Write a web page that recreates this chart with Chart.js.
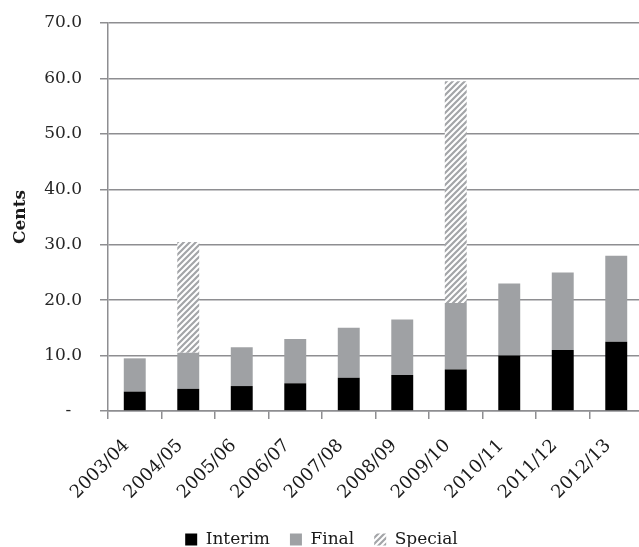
<!DOCTYPE html>
<html>
<head>
<meta charset="utf-8">
<script src="https://cdn.jsdelivr.net/npm/chart.js@4.4.0/dist/chart.umd.min.js"></script>
<style>
  html, body { margin: 0; padding: 0; background: #fff; overflow: hidden; }
  #wrap { width: 639px; height: 547px; overflow: hidden; position: relative; }
  canvas { position: absolute; left: 0; top: 0; }
</style>
</head>
<body>
<div id="wrap"><canvas id="c" width="643" height="547"></canvas></div>
<script>
const categories = ['2003/04','2004/05','2005/06','2006/07','2007/08','2008/09','2009/10','2010/11','2011/12','2012/13'];
const interim = [3.5, 4.0, 4.5, 5.0, 6.0, 6.5, 7.5, 10.0, 11.0, 12.5];
const finalDiv = [6.0, 6.5, 7.0, 8.0, 9.0, 10.0, 12.0, 13.0, 14.0, 15.5];
const special = [0, 20.0, 0, 0, 0, 0, 40.0, 0, 0, 0];
const seriesNames = ['Interim', 'Final', 'Special'];
const yTicks = [0, 10, 20, 30, 40, 50, 60, 70];

function makeStripes() {
  const p = document.createElement('canvas');
  p.width = 6; p.height = 6;
  const g = p.getContext('2d');
  g.fillStyle = '#ffffff';
  g.fillRect(0, 0, 6, 6);
  g.strokeStyle = '#a3a5a8';
  g.lineWidth = 2.2;
  g.beginPath();
  for (let k = -6; k <= 12; k += 6) {
    g.moveTo(k - 1, 7);
    g.lineTo(k + 7, -1);
  }
  g.stroke();
  return g.createPattern(p, 'repeat');
}

const ctx = document.getElementById('c').getContext('2d');
const stripes = makeStripes();
const FONT = "'DejaVu Serif', serif";
const gridCol = '#8e8e91';

new Chart(ctx, {
  type: 'bar',
  data: {
    labels: categories,
    datasets: [
      { label: seriesNames[0], data: interim, backgroundColor: '#000000', categoryPercentage: 1, barPercentage: 0.41 },
      { label: seriesNames[1], data: finalDiv, backgroundColor: '#9fa1a4', categoryPercentage: 1, barPercentage: 0.41 },
      { label: seriesNames[2], data: special, backgroundColor: stripes, categoryPercentage: 1, barPercentage: 0.41 }
    ]
  },
  options: {
    responsive: false,
    animation: false,
    devicePixelRatio: 1,
    layout: { padding: { top: 23, right: 0, left: 0, bottom: -11 } },
    plugins: {
      tooltip: { enabled: false },
      legend: {
        position: 'bottom',
        labels: {
          boxWidth: 12, boxHeight: 12, padding: 20,
          color: '#1a1a1a',
          font: { family: FONT, size: 17 }
        }
      }
    },
    scales: {
      x: {
        stacked: true,
        grid: { display: true, drawOnChartArea: false, drawTicks: true, tickLength: 8, offset: true, color: gridCol, lineWidth: 1.5 },
        border: { display: true, color: gridCol, width: 1.5 },
        ticks: {
          minRotation: 45, maxRotation: 45, padding: 8,
          color: '#1a1a1a',
          font: { family: FONT, size: 18 },
          callback: (v, i) => categories[i] + '  '
        },
        afterFit: s => { s.height = 100; s.paddingLeft = 0; s.paddingRight = 0; }
      },
      y: {
        stacked: true,
        min: 0, max: 70,
        afterBuildTicks: s => { s.ticks = yTicks.map(v => ({ value: v })); },
        grid: { color: gridCol, lineWidth: 1.5, tickLength: 8 },
        border: { display: true, color: gridCol, width: 1.5 },
        ticks: {
          padding: 18,
          color: '#262626',
          font: { family: FONT, size: 17 },
          callback: v => v === 0 ? '-  ' : v.toFixed(1)
        },
        title: {
          display: true, text: 'Cents', color: '#1a1a1a',
          font: { family: FONT, size: 17, weight: 'bold' },
          padding: { top: 10, bottom: 0 }
        },
        afterFit: s => { s.width = 108; s.paddingTop = 0; s.paddingBottom = 0; }
      }
    }
  }
});
</script>
</body>
</html>
